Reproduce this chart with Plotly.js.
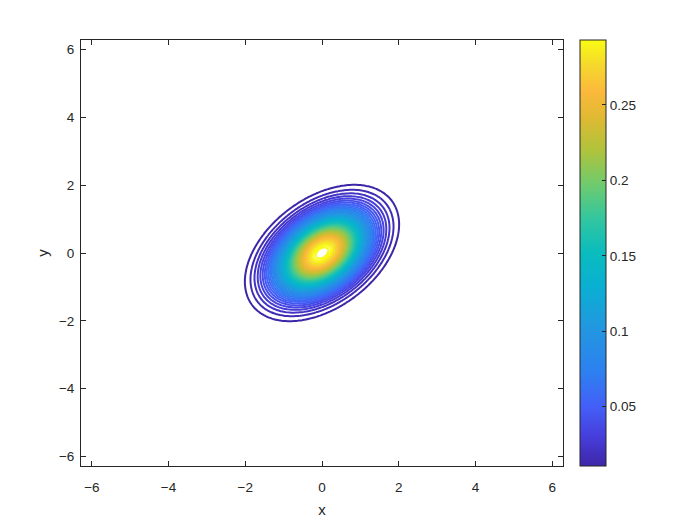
<!DOCTYPE html>
<html>
<head>
<meta charset="utf-8">
<script src="https://cdn.plot.ly/plotly-3.0.1.min.js"></script>
<style>html,body{margin:0;padding:0;background:#fff;}#chart{width:700px;height:525px;}</style>
</head>
<body>
<div id="chart"></div>
<script>
// Bivariate normal parameters
const mu = [0, 0];
const sigma = [0.765, 0.765];
const rho = 0.42;
// grid
const gridN = 241;
const gridLimit = 2 * Math.PI;
// contour levels and colour range
const levelStart = 0.0095;
const levelEnd = 0.293;
const levelStep = 0.0059;
const colorMin = 0.0107;
const colorMax = 0.293;
const cbTicks = [0.05, 0.1, 0.15, 0.2, 0.25];
const cbTickText = ['0.05', '0.1', '0.15', '0.2', '0.25'];
const axisTicks = [-6, -4, -2, 0, 2, 4, 6];

const parula = [
  [0.0, 'rgb(62,38,168)'],
  [0.07, 'rgb(70,62,220)'],
  [0.14, 'rgb(67,95,247)'],
  [0.22, 'rgb(45,128,240)'],
  [0.32, 'rgb(35,150,225)'],
  [0.42, 'rgb(10,175,210)'],
  [0.50, 'rgb(10,188,190)'],
  [0.58, 'rgb(50,198,160)'],
  [0.66, 'rgb(110,203,110)'],
  [0.74, 'rgb(175,195,60)'],
  [0.82, 'rgb(225,185,50)'],
  [0.88, 'rgb(252,185,60)'],
  [0.94, 'rgb(245,215,45)'],
  [1.0, 'rgb(249,251,20)']
];

const xs = [], ys = [];
for (let i = 0; i < gridN; i++) {
  const v = -gridLimit + 2 * gridLimit * i / (gridN - 1);
  xs.push(v); ys.push(v);
}
const norm = 1 / (2 * Math.PI * sigma[0] * sigma[1] * Math.sqrt(1 - rho * rho));
const z = ys.map(y => xs.map(x => {
  const dx = (x - mu[0]) / sigma[0], dy = (y - mu[1]) / sigma[1];
  const q = (dx * dx - 2 * rho * dx * dy + dy * dy) / (1 - rho * rho);
  return norm * Math.exp(-q / 2);
}));

const fontFam = 'Liberation Sans, Arial, Helvetica, sans-serif';
const txt = '#262626';

const contourTrace = {
  type: 'contour',
  x: xs, y: ys, z: z,
  zauto: false, zmin: colorMin, zmax: colorMax,
  colorscale: parula,
  autocontour: false,
  contours: { coloring: 'lines', start: levelStart, end: levelEnd + 1e-6, size: levelStep, showlabels: false },
  line: { width: 2, smoothing: 1 },
  showscale: false,
  hoverinfo: 'skip'
};

const scaleTrace = {
  type: 'scatter', mode: 'markers',
  x: [null, null], y: [null, null],
  marker: {
    color: [colorMin, colorMax], cmin: colorMin, cmax: colorMax,
    colorscale: parula, showscale: true, size: 0,
    colorbar: {
      x: 1.035, xanchor: 'left', xref: 'paper',
      y: 0.5, yanchor: 'middle', len: 1, lenmode: 'fraction',
      thickness: 26, thicknessmode: 'pixels',
      xpad: 0, ypad: 0,
      outlinewidth: 1, outlinecolor: txt,
      ticks: 'inside', ticklen: 4, tickcolor: txt,
      tickvals: cbTicks, ticktext: cbTickText,
      tickfont: { family: fontFam, size: 13.5, color: txt },
      ticklabelstandoff: 5,
      borderwidth: 0
    }
  },
  showlegend: false, hoverinfo: 'skip'
};

const axisCommon = {
  range: [-gridLimit, gridLimit],
  showline: true, linecolor: txt, linewidth: 1, mirror: 'ticks',
  ticks: 'inside', ticklen: 5, tickcolor: txt, tickwidth: 1,
  tickvals: axisTicks,
  tickfont: { family: fontFam, size: 13.5, color: txt },
  showgrid: false, zeroline: false, automargin: false
};

const layout = {
  width: 700, height: 525,
  margin: { l: 81, r: 137, t: 40, b: 59, pad: 0 },
  paper_bgcolor: '#fff', plot_bgcolor: '#fff',
  showlegend: false,
  xaxis: Object.assign({}, axisCommon, { ticklabelstandoff: 9, title: { text: 'x', font: { family: fontFam, size: 15, color: txt }, standoff: 10 } }),
  yaxis: Object.assign({}, axisCommon, { ticklabelstandoff: 3, title: { text: 'y', font: { family: fontFam, size: 15, color: txt }, standoff: 6 } })
};

Plotly.newPlot('chart', [contourTrace, scaleTrace], layout, { staticPlot: true, displayModeBar: false });
</script>
</body>
</html>
